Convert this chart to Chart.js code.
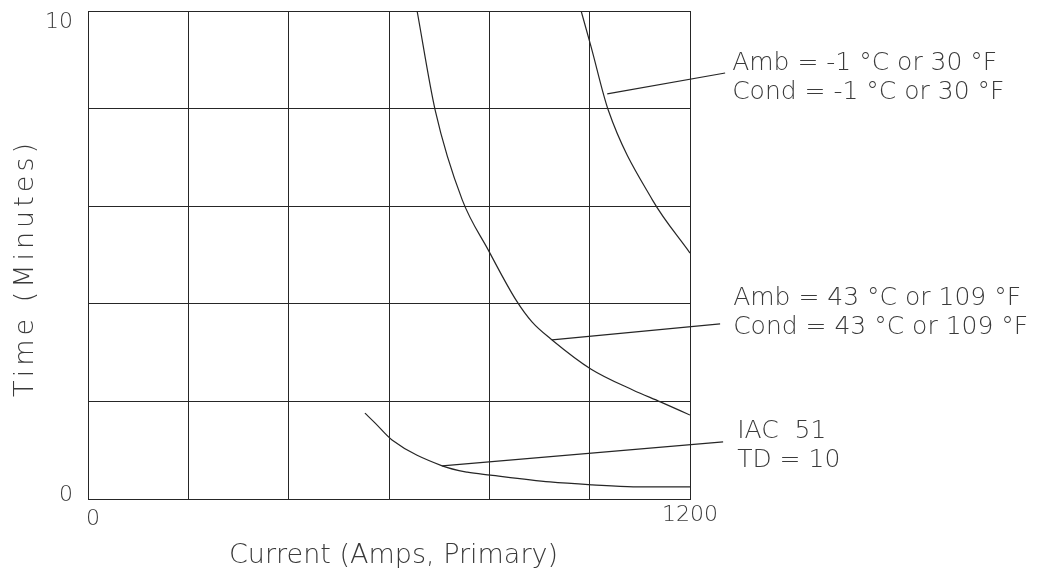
<!DOCTYPE html>
<html>
<head>
<meta charset="utf-8">
<script src="https://cdn.jsdelivr.net/npm/chart.js@4.4.1/dist/chart.umd.min.js"></script>
<style>
  html, body { margin: 0; padding: 0; background: #ffffff; }
  #wrap { width: 1041px; height: 575px; position: relative; }
</style>
</head>
<body>
<div id="wrap"><canvas id="c" width="1041" height="575"></canvas></div>
<script>
// ---- Data ----
const xTickValues = [0, 1200];
const xTickLabels = ['0', '1200'];
const yTickValues = [0, 10];
const yTickLabels = ['0', '10'];

const xAxisTitle = 'Current (Amps, Primary)';
const yAxisTitle = 'Time (Minutes)';

// Curve: Amb = -1 °C
const coldX = [983, 1003, 1037, 1125, 1200];
const coldY = [10, 9.26, 7.97, 6.13, 5.04];

// Curve: Amb = 43 °C
const hotX = [656, 692, 746, 798, 853, 885, 925, 1003, 1087, 1141, 1200];
const hotY = [10, 7.97, 6.13, 5.10, 4.08, 3.63, 3.26, 2.66, 2.23, 1.99, 1.72];

// Curve: IAC 51, TD = 10
const iacX = [552, 572, 606, 706, 756, 802, 921, 1005, 1087, 1200];
const iacY = [1.76, 1.56, 1.21, 0.68, 0.55, 0.49, 0.35, 0.29, 0.25, 0.25];

// Leader lines (start on curve, end next to the label)
const leaderColdX = [1035, 1270];
const leaderColdY = [8.30, 8.73];
const leaderHotX = [925, 1260];
const leaderHotY = [3.26, 3.59];
const leaderIacX = [706, 1266];
const leaderIacY = [0.68, 1.17];

// Annotation texts and their anchors (data units, first line baseline-left)
const noteTexts = [
  ['Amb = -1 °C or 30 °F', 'Cond = -1 °C or 30 °F'],
  ['Amb = 43 °C or 109 °F', 'Cond = 43 °C or 109 °F'],
  ['IAC  51', 'TD = 10']
];
const noteX = [1284, 1286, 1294];
const noteY = [8.79, 3.98, 1.25];

// ---- Helpers ----
const pts = (xs, ys) => xs.map((x, i) => ({ x: x, y: ys[i] }));
const INK = '#262626';
const TXT = '#3a3a3a';
const FONT = "'DejaVu Sans', 'Liberation Sans', sans-serif";

const textPlugin = {
  id: 'texts',
  afterDraw(chart) {
    const ctx = chart.ctx;
    const xs = chart.scales.x, ys = chart.scales.y;
    const area = chart.chartArea;
    ctx.save();
    ctx.fillStyle = TXT;

    // tick labels
    ctx.font = '200 22px ' + FONT;
    ctx.textAlign = 'right';
    yTickValues.forEach((v, i) => {
      const py = ys.getPixelForValue(v);
      ctx.textBaseline = (i === 0) ? 'alphabetic' : 'top';
      ctx.fillText(yTickLabels[i], area.left - 15, i === 0 ? py + 2 : py);
    });
    ctx.textBaseline = 'alphabetic';
    xTickValues.forEach((v, i) => {
      const px = xs.getPixelForValue(v);
      ctx.textAlign = (i === 0) ? 'left' : 'center';
      ctx.fillText(xTickLabels[i], i === 0 ? px - 2 : px, area.bottom + (i === 0 ? 26 : 22));
    });

    // axis titles
    ctx.font = '200 27px ' + FONT;
    ctx.textAlign = 'left';
    ctx.textBaseline = 'alphabetic';
    ctx.fillText(xAxisTitle, 229, 563);
    ctx.save();
    ctx.translate(33, 397);
    ctx.rotate(-Math.PI / 2);
    if ('letterSpacing' in ctx) ctx.letterSpacing = '4px';
    ctx.fillText(yAxisTitle, 0, 0);
    ctx.restore();

    // annotations
    ctx.font = '200 25px ' + FONT;
    ctx.textAlign = 'left';
    noteTexts.forEach((lines, i) => {
      const px = xs.getPixelForValue(noteX[i]);
      const py = ys.getPixelForValue(noteY[i]);
      lines.forEach((t, j) => ctx.fillText(t, px, py + j * 29));
    });
    ctx.restore();
  }
};

const curveDs = (data) => ({
  data: data,
  borderColor: INK,
  borderWidth: 1.2,
  pointRadius: 0,
  showLine: true,
  fill: false,
  cubicInterpolationMode: 'monotone'
});
const leaderDs = (data) => ({
  data: data,
  borderColor: INK,
  borderWidth: 1.2,
  pointRadius: 0,
  showLine: true,
  fill: false,
  tension: 0,
  clip: false
});

new Chart(document.getElementById('c'), {
  type: 'scatter',
  data: {
    datasets: [
      curveDs(pts(coldX, coldY)),
      curveDs(pts(hotX, hotY)),
      curveDs(pts(iacX, iacY)),
      leaderDs(pts(leaderColdX, leaderColdY)),
      leaderDs(pts(leaderHotX, leaderHotY)),
      leaderDs(pts(leaderIacX, leaderIacY))
    ]
  },
  options: {
    responsive: false,
    animation: false,
    layout: { padding: { left: 88, top: 11, right: 351, bottom: 76 } },
    plugins: { legend: { display: false }, tooltip: { enabled: false } },
    scales: {
      x: {
        type: 'linear', min: 0, max: 1200,
        ticks: { stepSize: 200, display: false },
        grid: { color: INK, lineWidth: 1, drawTicks: false },
        border: { color: INK, width: 1 }
      },
      y: {
        type: 'linear', min: 0, max: 10,
        ticks: { stepSize: 2, display: false },
        grid: { color: INK, lineWidth: 1, drawTicks: false },
        border: { color: INK, width: 1 }
      }
    }
  },
  plugins: [textPlugin]
});
</script>
</body>
</html>
